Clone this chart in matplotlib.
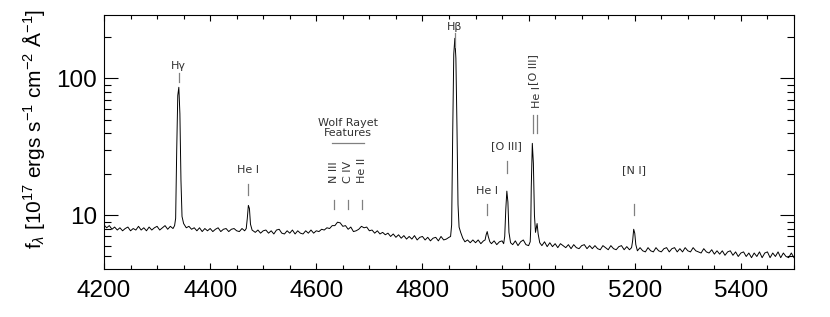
import matplotlib
matplotlib.use("Agg")
import matplotlib.pyplot as plt
from matplotlib.ticker import MultipleLocator, LogLocator, NullFormatter, FixedLocator, FixedFormatter

plt.rcParams["font.family"] = ["Liberation Sans", "DejaVu Sans"]
plt.rcParams["mathtext.fontset"] = "custom"
plt.rcParams["mathtext.rm"] = "Liberation Sans"
plt.rcParams["mathtext.it"] = "Liberation Sans:italic"

# spectrum (wavelength in A, flux in 1e-17 cgs)
wave_blue = [4200, 4205, 4210, 4215, 4220, 4225, 4230, 4235, 4240, 4245,
             4250, 4255, 4260, 4265, 4270, 4275, 4280, 4285, 4290, 4295,
             4300, 4305, 4310, 4315, 4320, 4325, 4330, 4333,
             4335, 4337, 4339, 4341, 4343, 4345, 4347, 4350, 4355,
             4360, 4365, 4370, 4375, 4380, 4385, 4390, 4395, 4400, 4405,
             4410, 4415, 4420, 4425, 4430, 4435, 4440, 4445, 4450, 4455,
             4460, 4465, 4468, 4470, 4472, 4474, 4476, 4479]
flux_blue = [8.5, 8.1, 8.4, 7.9, 8.2, 7.8, 8.1, 7.7, 8.0, 8.2,
             7.7, 8.0, 7.8, 8.3, 7.8, 8.1, 7.7, 8.2, 7.8, 8.1,
             8.3, 7.8, 8.1, 8.4, 7.9, 8.3, 8.0, 8.4,
             9.5, 30, 75, 86, 55, 18, 9.8, 8.7, 8.1,
             8.3, 7.9, 8.1, 7.7, 8.1, 7.6, 8.0, 7.7, 8.0, 7.6,
             7.9, 8.1, 7.6, 7.9, 8.0, 7.6, 7.9, 8.0, 7.7, 7.6,
             8.0, 7.7, 8.0, 9.5, 11.8, 11.2, 8.6, 7.8]

wave_wr = [4485, 4490, 4495, 4500, 4505, 4510, 4515, 4520, 4525, 4530,
           4535, 4540, 4545, 4550, 4555, 4560, 4565, 4570, 4575, 4580,
           4585, 4590, 4595, 4600, 4605, 4610, 4615, 4620, 4625, 4630,
           4635, 4640, 4645, 4650, 4655, 4660, 4665, 4670, 4675, 4680,
           4685, 4690, 4695, 4700, 4705, 4710, 4715, 4720, 4725, 4730,
           4735, 4740, 4745, 4750, 4755, 4760, 4765, 4770, 4775, 4780,
           4785, 4790, 4795, 4800, 4805, 4810, 4815, 4820, 4825, 4830,
           4835, 4840, 4845, 4850, 4853]
flux_wr = [7.5, 7.8, 7.4, 7.7, 7.8, 7.4, 7.7, 7.3, 7.8, 7.9,
           7.4, 7.3, 7.7, 7.4, 7.8, 7.3, 7.7, 7.4, 7.3, 7.7,
           7.4, 7.8, 7.4, 7.7, 7.6, 7.9, 7.8, 8.1, 8.0, 8.4,
           8.4, 8.9, 8.8, 8.3, 8.4, 7.9, 8.2, 7.6, 7.7, 7.9,
           8.3, 8.1, 8.2, 7.7, 7.8, 7.4, 7.7, 7.3, 7.5, 7.2,
           7.4, 7.0, 7.3, 6.9, 7.2, 6.8, 7.1, 6.7, 7.0, 6.7,
           7.1, 6.6, 6.9, 7.0, 6.6, 6.9, 6.5, 6.8, 6.9, 6.5,
           7.0, 6.6, 6.7, 6.9, 7.0]

wave_hb = [4855, 4857, 4859, 4861, 4863, 4865, 4867, 4869, 4872, 4876,
           4880, 4885, 4890, 4895, 4900, 4905, 4910, 4915, 4918,
           4920, 4922, 4924, 4927, 4930, 4935, 4940, 4945, 4950, 4953,
           4955, 4957, 4959, 4961, 4963, 4966,
           4970, 4975, 4980, 4985, 4990, 4995, 5000, 5003,
           5004, 5005, 5007, 5009, 5011, 5013, 5016, 5018, 5021]
flux_hb = [8.5, 40, 150, 196, 140, 45, 12, 8.2, 7.5, 6.8,
           6.4, 6.6, 6.3, 6.6, 6.3, 6.6, 6.2, 6.5, 6.6,
           7.2, 7.6, 7.0, 6.4, 6.2, 6.5, 6.1, 6.4, 6.5, 6.2,
           7.0, 11, 15, 12.5, 7.5, 6.3,
           6.1, 6.5, 6.0, 6.4, 6.6, 6.1, 6.0, 6.4,
           8, 16, 33.5, 24, 10, 7.5, 8.7, 7.3, 6.3]

wave_red = [5025, 5030, 5035, 5040, 5045, 5050, 5055, 5060, 5065, 5070,
            5075, 5080, 5085, 5090, 5095, 5100, 5105, 5110, 5115, 5120,
            5125, 5130, 5135, 5140, 5145, 5150, 5155, 5160, 5165, 5170,
            5175, 5180, 5185, 5190, 5194, 5196, 5198, 5200, 5202, 5205,
            5210, 5215, 5220, 5225, 5230, 5235, 5240, 5245, 5250, 5255,
            5260, 5265, 5270, 5275, 5280, 5285, 5290, 5295, 5300, 5305,
            5310, 5315, 5320, 5325, 5330, 5335, 5340, 5345, 5350, 5355,
            5360, 5365, 5370, 5375, 5380, 5385, 5390, 5395, 5400, 5405,
            5410, 5415, 5420, 5425, 5430, 5435, 5440, 5445, 5450, 5455,
            5460, 5465, 5470, 5475, 5480, 5485, 5490, 5495, 5500]
flux_red = [6.0, 6.4, 5.9, 6.3, 5.9, 6.2, 5.8, 6.2, 6.0, 5.8,
            6.1, 5.7, 6.1, 5.8, 5.7, 6.0, 6.1, 5.7, 6.0, 5.7,
            6.0, 5.7, 5.6, 6.0, 5.8, 5.6, 6.0, 5.7, 5.6, 5.9,
            6.0, 5.6, 5.9, 5.6, 5.8, 6.5, 7.9, 7.4, 6.1, 5.5,
            5.8, 5.5, 5.4, 5.8, 5.5, 5.4, 5.8, 5.5, 5.4, 5.7,
            5.8, 5.4, 5.7, 5.8, 5.4, 5.7, 5.4, 5.8, 5.5, 5.4,
            5.8, 5.5, 5.4, 5.3, 5.7, 5.4, 5.3, 5.6, 5.2, 5.5,
            5.2, 5.5, 5.1, 5.4, 5.5, 5.1, 5.4, 5.0, 5.3, 5.4,
            5.0, 5.3, 4.9, 5.3, 5.0, 5.4, 4.9, 5.3, 5.4, 4.9,
            5.3, 5.0, 5.4, 4.9, 5.3, 5.0, 4.9, 5.3, 4.9]

wave = wave_blue + wave_wr + wave_hb + wave_red
flux = flux_blue + flux_wr + flux_hb + flux_red

# line ids: label, wavelength, text y, tick bottom, tick top
line_names = ["H\u03b3", "He I", "H\u03b2", "He I", "[O III]", "[N I]"]
line_waves = [4341, 4472, 4861, 4922, 4959, 5199]
line_text_y = [122, 21.3, 236, 15.0, 31.9, 21.5]
line_tick_lo = [93.5, 14.0, 168, 10.0, 20.3, 10.0]
line_tick_hi = [108.7, 16.8, 213, 12.0, 24.8, 12.0]

# rotated ids
rot_names = ["N III", "C IV", "He II", "[O III]", "He I"]
rot_waves = [4633, 4659, 4686, 5008, 5016]
rot_text_y = [17.1, 17.1, 17.1, 89, 61]
rot_tick_lo = [11.1, 11.1, 11.1, 39.7, 39.7]
rot_tick_hi = [12.9, 12.9, 12.9, 53.7, 53.7]

fig = plt.figure(figsize=(8.3, 3.17), dpi=100)
ax = fig.add_axes([0.1253, 0.1514, 0.8313, 0.8013])

ax.plot(wave, flux, color="k", lw=0.7)
ax.set_yscale("log")
ax.set_xlim(4200, 5500)
ax.set_ylim(4.05, 290)

lab_col = "#333333"
tick_col = "#808080"
for name, w, ty, lo, hi in zip(line_names, line_waves, line_text_y, line_tick_lo, line_tick_hi):
    ax.text(w, ty, name, ha="center", va="center", fontsize=8, color=lab_col,
            family=["DejaVu Sans"])
    ax.plot([w, w], [lo, hi], color=tick_col, lw=0.9)

for name, w, ty, lo, hi in zip(rot_names, rot_waves, rot_text_y, rot_tick_lo, rot_tick_hi):
    ax.text(w, ty, name, ha="center", va="bottom", rotation=90, fontsize=8,
            color=lab_col, family=["DejaVu Sans"])
    ax.plot([w, w], [lo, hi], color=tick_col, lw=0.9)

ax.text(4659, 43.5, "Wolf Rayet\nFeatures", ha="center", va="center", fontsize=8,
        color=lab_col, family=["DejaVu Sans"], linespacing=1.0)
ax.plot([4630, 4690], [33.6, 33.6], color=tick_col, lw=0.9)

ax.xaxis.set_major_locator(MultipleLocator(200))
ax.xaxis.set_minor_locator(MultipleLocator(50))
ax.yaxis.set_major_locator(FixedLocator([10, 100]))
ax.yaxis.set_major_formatter(FixedFormatter(["10", "100"]))
ax.yaxis.set_minor_locator(LogLocator(base=10, subs=range(2, 10)))
ax.yaxis.set_minor_formatter(NullFormatter())

ax.tick_params(axis="both", which="both", direction="in", top=True, right=True,
               labelsize=17.5, width=0.8)
ax.tick_params(axis="x", which="major", length=4.5, pad=8)
ax.tick_params(axis="x", which="minor", length=3)
ax.tick_params(axis="y", which="major", length=10, pad=5)
ax.tick_params(axis="y", which="minor", length=5)
for s in ax.spines.values():
    s.set_linewidth(0.8)

ax.set_ylabel(r"f$_\lambda$ [10$^{17}$ ergs s$^{-1}$ cm$^{-2}$ Å$^{-1}$]", fontsize=15)
ax.yaxis.set_label_coords(-0.083, 0.55)

fig.savefig("out.png", dpi=100)
